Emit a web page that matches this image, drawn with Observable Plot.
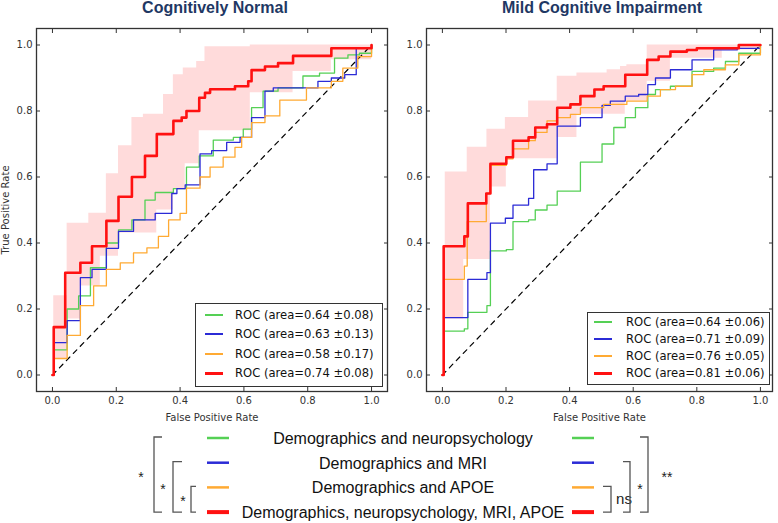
<!DOCTYPE html>
<html><head><meta charset="utf-8">
<script src="https://cdn.jsdelivr.net/npm/d3@7"></script>
<script src="https://cdn.jsdelivr.net/npm/@observablehq/plot@0.6"></script>
<style>
body{margin:0;background:#fff;}
#wrap{position:relative;width:778px;height:523px;overflow:hidden;background:#fff;}
.title{position:absolute;top:0;font:bold 16px/16px "Liberation Sans",Arial,sans-serif;color:#1f3864;text-align:center;white-space:nowrap;}
.panel{position:absolute;top:0;}
.leg{position:absolute;border:1.3px solid #333;background:#fff;font:11.6px "DejaVu Sans",sans-serif;color:#111;box-sizing:border-box;}
.leg .row{position:absolute;left:0;right:0;height:16px;}
.leg .sw{position:absolute;}
.leg .tx{position:absolute;top:0;line-height:16px;white-space:nowrap;}
</style></head>
<body><div id="wrap"></div>
<script>
// ---------- data ----------
const tickVals = [0, 0.2, 0.4, 0.6, 0.8, 1.0];
const panelTitles = ["Cognitively Normal", "Mild Cognitive Impairment"];
const seriesNames = ["Demographics and neuropsychology", "Demographics and MRI", "Demographics and APOE", "Demographics, neuropsychology, MRI, APOE"];
const seriesColors = ["#55d055", "#2b2bd6", "#ffaa33", "#ff1111"];
const cnAreas = ["0.64", "0.63", "0.58", "0.74"];
const cnErrs = ["0.08", "0.13", "0.17", "0.08"];
const mciAreas = ["0.64", "0.71", "0.76", "0.81"];
const mciErrs = ["0.06", "0.09", "0.05", "0.06"];
const diagonal = [[0, 0], [1, 1]];

// Cognitively Normal: [false positive rate, true positive rate] step vertices
const cnGreen = [[0,0],[0.004,0.076],[0.046,0.2],[0.082,0.24],[0.119,0.325],[0.169,0.40],[0.207,0.44],[0.249,0.47],[0.29,0.53],[0.322,0.553],[0.379,0.565],[0.42,0.63],[0.46,0.664],[0.504,0.712],[0.567,0.72],[0.598,0.745],[0.624,0.81],[0.66,0.86],[0.707,0.87],[0.785,0.906],[0.837,0.915],[0.884,0.96],[0.926,0.97],[0.962,0.975],[1,1]];
const cnBlue = [[0,0],[0.004,0.098],[0.046,0.165],[0.0875,0.295],[0.124,0.32],[0.169,0.384],[0.207,0.435],[0.254,0.47],[0.322,0.49],[0.374,0.55],[0.39,0.565],[0.416,0.576],[0.4625,0.67],[0.499,0.68],[0.546,0.705],[0.588,0.72],[0.624,0.78],[0.666,0.86],[0.692,0.87],[0.832,0.89],[0.874,0.90],[0.916,0.91],[0.952,0.99],[1,1]];
const cnOrange = [[0,0],[0.004,0.05],[0.046,0.12],[0.0875,0.21],[0.129,0.27],[0.169,0.32],[0.2125,0.34],[0.254,0.37],[0.296,0.385],[0.332,0.42],[0.364,0.47],[0.40,0.49],[0.42,0.566],[0.4625,0.60],[0.494,0.63],[0.535,0.66],[0.572,0.69],[0.593,0.72],[0.624,0.765],[0.666,0.785],[0.7125,0.833],[0.796,0.87],[0.874,0.89],[0.91,0.93],[0.957,0.965],[1,1]];
const cnRed = [[0,0],[0.004,0.145],[0.04,0.31],[0.0875,0.34],[0.124,0.39],[0.169,0.467],[0.207,0.54],[0.249,0.60],[0.29,0.664],[0.327,0.73],[0.379,0.77],[0.405,0.78],[0.42,0.80],[0.46,0.84],[0.478,0.855],[0.494,0.866],[0.572,0.875],[0.6135,0.89],[0.624,0.924],[0.666,0.935],[0.707,0.945],[0.754,0.967],[0.874,0.99],[1,1]];
const cnHi = [[0,0],[0.004,0.24],[0.046,0.46],[0.114,0.49],[0.169,0.61],[0.207,0.695],[0.249,0.78],[0.285,0.79],[0.348,0.85],[0.379,0.91],[0.41,0.93],[0.452,0.95],[0.478,0.995],[0.62,1.0],[1,1]];
const cnLo = [[0,0],[0.004,0.05],[0.046,0.17],[0.0875,0.27],[0.15,0.36],[0.207,0.43],[0.327,0.50],[0.379,0.565],[0.416,0.64],[0.46,0.74],[0.62,0.855],[0.754,0.92],[0.874,0.955],[1,1]];

// Mild Cognitive Impairment
const mciGreen = [[0,0],[0.004,0.133],[0.069,0.14],[0.08,0.19],[0.14,0.21],[0.151,0.376],[0.201,0.38],[0.222,0.465],[0.271,0.47],[0.292,0.50],[0.329,0.515],[0.361,0.557],[0.434,0.645],[0.502,0.70],[0.539,0.75],[0.575,0.78],[0.607,0.81],[0.646,0.85],[0.67,0.865],[0.717,0.875],[0.785,0.92],[0.853,0.93],[0.89,0.95],[0.932,0.975],[1,1]];
const mciBlue = [[0,0],[0.004,0.174],[0.08,0.29],[0.14,0.31],[0.151,0.46],[0.198,0.475],[0.222,0.515],[0.271,0.535],[0.287,0.622],[0.329,0.64],[0.361,0.754],[0.434,0.78],[0.502,0.817],[0.528,0.83],[0.575,0.845],[0.617,0.85],[0.646,0.88],[0.67,0.90],[0.717,0.925],[0.785,0.955],[0.853,0.985],[0.927,0.99],[1,1]];
const mciOrange = [[0,0],[0.004,0.29],[0.069,0.33],[0.078,0.465],[0.138,0.55],[0.151,0.635],[0.201,0.655],[0.222,0.685],[0.271,0.71],[0.292,0.735],[0.329,0.77],[0.361,0.78],[0.4025,0.79],[0.434,0.81],[0.507,0.82],[0.58,0.83],[0.644,0.845],[0.6855,0.865],[0.733,0.875],[0.785,0.91],[0.822,0.925],[0.89,0.94],[0.932,0.97],[1,1]];
const mciRed = [[0,0],[0.004,0.39],[0.069,0.42],[0.08,0.52],[0.138,0.55],[0.151,0.64],[0.201,0.66],[0.222,0.71],[0.271,0.72],[0.292,0.75],[0.329,0.76],[0.361,0.81],[0.4025,0.82],[0.434,0.845],[0.478,0.865],[0.507,0.875],[0.575,0.91],[0.644,0.955],[0.68,0.965],[0.717,0.98],[0.769,0.985],[0.80,0.99],[0.932,1.0],[1,1]];
const mciHi = [[0,0],[0.009,0.615],[0.078,0.69],[0.14,0.745],[0.198,0.78],[0.271,0.83],[0.361,0.905],[0.423,0.915],[0.518,0.925],[0.56,0.935],[0.58,0.94],[0.644,1.0],[1,1]];
const mciLo = [[0,0],[0.004,0.17],[0.067,0.35],[0.151,0.57],[0.201,0.655],[0.361,0.72],[0.423,0.79],[0.575,0.83],[0.644,0.89],[0.717,0.96],[0.88,0.985],[1,1]];

// ---------- helpers ----------
function stepAt(pts, t) { let v = pts[0][1]; for (const p of pts) { if (p[0] <= t) v = p[1]; else break; } return v; }
function bandRows(lo, hi) {
  const xs = Array.from(new Set([...lo.map(p => p[0]), ...hi.map(p => p[0])])).sort((a, b) => a - b);
  return xs.map(x => ({x, lo: stepAt(lo, x), hi: stepAt(hi, x)}));
}
const f1 = d3.format(".1f");

function panel(curves, lo, hi, o) {
  return Plot.plot({
    width: o.width, height: 423,
    marginLeft: 36, marginRight: o.mr, marginTop: 28, marginBottom: 32,
    style: {fontFamily: "DejaVu Sans, sans-serif", fontSize: "10px", color: "#333", background: "transparent"},
    x: {domain: o.xdom},
    y: {domain: [-0.05, 1.05]},
    marks: [
      Plot.areaY(bandRows(lo, hi), {x: "x", y1: "lo", y2: "hi", curve: "step-after", fill: "#ff2a2a", fillOpacity: 0.17}),
      Plot.line(diagonal, {x: d => d[0], y: d => d[1], stroke: "#000", strokeWidth: 1.2, strokeDasharray: "5,5"}),
      ...curves.map((c, i) => Plot.line(c, {x: d => d[0], y: d => d[1], curve: "step-after", stroke: seriesColors[i], strokeWidth: i === 3 ? 2.6 : 1.3})),
      Plot.frame({stroke: "#333", strokeWidth: 1.3}),
      Plot.axisX({ticks: tickVals, tickFormat: f1, tickSize: -4, tickPadding: 9.5, label: "False Positive Rate", labelAnchor: "center", labelArrow: "none"}),
      Plot.axisX({anchor: "top", ticks: tickVals, tickSize: -4, tickFormat: () => "", label: null}),
      Plot.axisY({ticks: tickVals, tickFormat: f1, tickSize: -4, tickPadding: 8, label: o.ylabel, labelAnchor: "center", labelOffset: 35, labelArrow: "none"}),
      Plot.axisY({anchor: "right", ticks: tickVals, tickSize: -4, tickFormat: () => "", label: null})
    ]
  });
}

const wrap = document.getElementById("wrap");
function addPanel(node, left) { node.classList.add("panel"); node.style.left = left + "px"; wrap.appendChild(node); }
addPanel(panel([cnGreen, cnBlue, cnOrange, cnRed], cnLo, cnHi, {width: 390, mr: 3, xdom: [-0.05, 1.05], ylabel: "True Positive Rate"}), 0);
addPanel(panel([mciGreen, mciBlue, mciOrange, mciRed], mciLo, mciHi, {width: 388, mr: 6, xdom: [-0.05, 1.038], ylabel: null}), 390);

// titles
[[panelTitles[0], 115, 200], [panelTitles[1], 477, 250]].forEach(([t, l, w]) => {
  const d = document.createElement("div"); d.className = "title"; d.textContent = t;
  d.style.left = l + "px"; d.style.width = w + "px"; wrap.appendChild(d);
});

// in-panel legends
function addLegend(areas, errs, box) {
  const d = document.createElement("div"); d.className = "leg";
  Object.assign(d.style, {left: box.l + "px", top: box.t + "px", width: box.w + "px", height: box.h + "px"});
  areas.forEach((a, i) => {
    const r = document.createElement("div"); r.className = "row"; r.style.top = Math.round(box.r0 + i * box.dr - 8) + "px";
    const sw = document.createElement("div"); sw.className = "sw";
    const th = i === 3 ? 3 : 2;
    Object.assign(sw.style, {left: box.sx + "px", top: "7px", width: box.sw + "px", height: th + "px", background: seriesColors[i]});
    const tx = document.createElement("div"); tx.className = "tx"; tx.style.left = box.tx + "px";
    tx.textContent = `ROC (area=${a} \u00b1${errs[i]})`;
    r.appendChild(sw); r.appendChild(tx); d.appendChild(r);
  });
  wrap.appendChild(d);
}
addLegend(cnAreas, cnErrs, {l: 195, t: 303, w: 188, h: 84, r0: 11, dr: 19.3, sx: 9, sw: 18, tx: 39});
addLegend(mciAreas, mciErrs, {l: 587, t: 312, w: 183, h: 73, r0: 9, dr: 17, sx: 6, sw: 18, tx: 38});

// bottom legend with significance brackets
const svg = d3.select(wrap).append("svg").attr("width", 778).attr("height", 523)
  .style("position", "absolute").style("left", 0).style("top", 0).style("pointer-events", "none");
const rowY = i => 438 + i * 24.7;
seriesNames.forEach((n, i) => {
  const w = i === 3 ? 4 : 2.5;
  svg.append("line").attr("x1", 207).attr("x2", 229).attr("y1", rowY(i)).attr("y2", rowY(i)).attr("stroke", seriesColors[i]).attr("stroke-width", w);
  svg.append("line").attr("x1", 572).attr("x2", 594).attr("y1", rowY(i)).attr("y2", rowY(i)).attr("stroke", seriesColors[i]).attr("stroke-width", w);
  svg.append("text").attr("x", 403).attr("y", rowY(i)).attr("dy", "0.38em").attr("text-anchor", "middle")
    .attr("font-family", "Liberation Sans, Arial, sans-serif").attr("font-size", 16).attr("fill", "#111").text(n);
});
const brackets = [
  {from: 0, x: 154, dir: 1, hook: 8, label: "*", lx: 141},
  {from: 1, x: 173, dir: 1, hook: 9, label: "*", lx: 163},
  {from: 2, x: 191, dir: 1, hook: 5, label: "*", lx: 183},
  {from: 2, x: 611, dir: -1, hook: 8, label: "ns", lx: 624},
  {from: 1, x: 630, dir: -1, hook: 7, label: "*", lx: 640},
  {from: 0, x: 648, dir: -1, hook: 8, label: "**", lx: 667}
];
brackets.forEach(b => {
  const y0 = rowY(b.from) - 1, y1 = rowY(3);
  svg.append("path").attr("d", `M${b.x + b.dir * b.hook},${y0}H${b.x}V${y1}H${b.x + b.dir * b.hook}`)
    .attr("fill", "none").attr("stroke", "#555").attr("stroke-width", 1.3);
  const ym = (y0 + y1) / 2;
  const isStar = b.label.includes("*");
  svg.append("text").attr("x", b.lx).attr("y", isStar ? ym + 7 : ym + 5).attr("text-anchor", "middle")
    .attr("font-family", "Liberation Sans, Arial, sans-serif").attr("font-size", isStar ? 14 : 15).attr("fill", "#222").text(b.label);
});
</script></body></html>
